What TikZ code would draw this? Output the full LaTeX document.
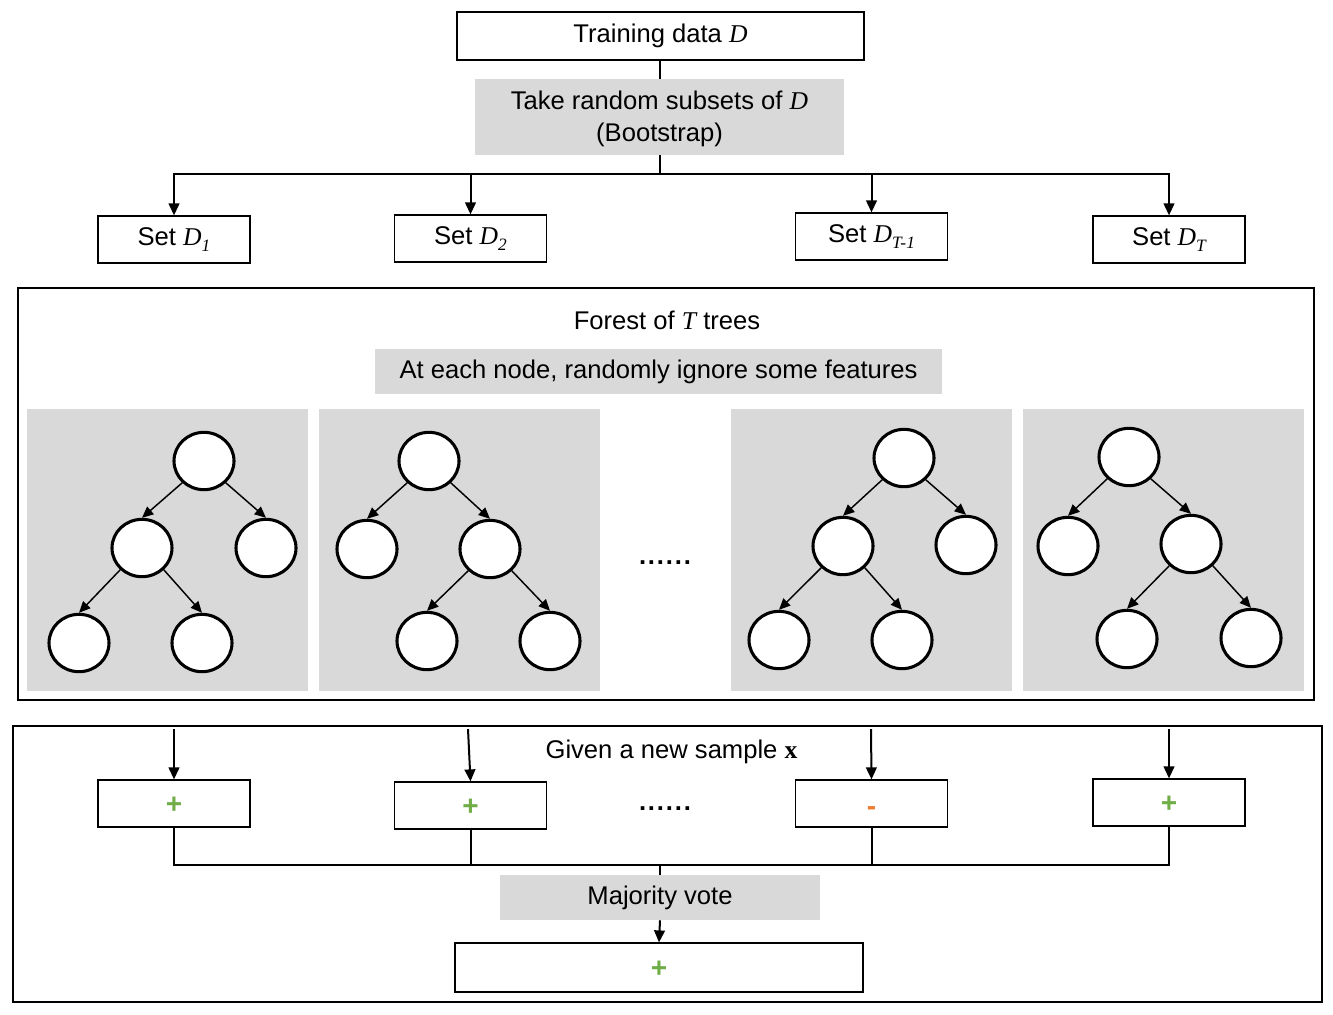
\documentclass[tikz,border=0pt]{standalone}
\usepackage{fontspec}
\setmainfont{Liberation Sans}
\newfontfamily\tnr{Liberation Serif}
\usetikzlibrary{arrows.meta,shapes.geometric}
\definecolor{boxgray}{HTML}{D9D9D9}
\definecolor{plusgreen}{HTML}{70AD47}
\definecolor{minusorange}{HTML}{ED7D31}
\newcommand{\DD}{{\tnr\itshape D}}
\newcommand{\sixdots}{.\kern1.4pt.\kern1.4pt.\kern1.4pt.\kern1.4pt.\kern1.4pt.}
\newcommand{\lowsub}[1]{\raisebox{-4.5pt}{\fontsize{13}{14}\selectfont\tnr\itshape #1}}
\tikzset{
  lbl/.style={font=\fontsize{19.2}{23.5}\selectfont, align=center},
  wbox/.style={draw=black, line width=0.9pt, fill=white, inner sep=0pt, lbl},
  gbox/.style={fill=boxgray, inner sep=0pt, lbl},
  panel/.style={fill=boxgray, inner sep=0pt, minimum width=210.75pt, minimum height=211.5pt},
  frame/.style={draw=black, line width=0.9pt, inner sep=0pt},
  tn/.style={ellipse, draw=black, line width=2.3pt, fill=white, minimum width=45pt, minimum height=43pt, inner sep=0pt},
  tedge/.style={line width=1.1pt, -{Triangle[length=8.5pt,width=7.5pt]}},
  conn/.style={line width=1.5pt},
  arr/.style={line width=1.5pt, -{Triangle[length=9pt,width=8pt]}},
  setbox/.style={wbox, minimum width=114pt, minimum height=35.25pt},
  dots/.style={font=\fontsize{19.2}{20}\selectfont\bfseries},
  plus/.style={font=\fontsize{21}{22}\selectfont\bfseries, text=plusgreen},
  minus/.style={font=\fontsize{21}{22}\selectfont\bfseries, text=minusorange},
}
\begin{document}
\begin{tikzpicture}[x=0.75pt, y=-0.75pt]
\useasboundingbox (0,0) rectangle (1333,1014);
\fill[white] (0,0) rectangle (1333,1014);

% top part
\node[wbox, minimum width=305.25pt, minimum height=36pt] (train) at (660.5,36) {Training data \DD};
\node[gbox, minimum width=276.75pt, minimum height=57pt] (boot) at (659.5,117) {};
\node[lbl] (boottext) at (659.5,119) {Take random subsets of \DD\\(Bootstrap)};
\draw[conn] (boot.north) -- (boot.north |- train.south);

\node[setbox] (s1) at (174,239.5) {Set \DD\lowsub{1}};
\node[setbox] (s2) at (470.5,238.5) {Set \DD\lowsub{2}};
\node[setbox] (s3) at (871.5,236.5) {Set \DD\lowsub{T-1}};
\node[setbox] (s4) at (1169,239.5) {Set \DD\lowsub{T}};
\coordinate (split) at (659.5,174);
\draw[conn] (boot.south) -- (split);
\draw[arr] (split) -| (s1.north);
\draw[arr] (split) -| (s2.north);
\draw[arr] (split) -| (s3.north);
\draw[arr] (split) -| (s4.north);

% forest frame
\node[frame, minimum width=972pt, minimum height=309pt] (forest) at (666,494) {};
\node[lbl] (ftitle) at (667,320) {Forest of {\tnr\itshape T} trees};
\node[gbox, minimum width=425.25pt, minimum height=33.75pt] (feat) at (658.5,371.5) {At each node, randomly ignore some features};

\node[panel] (p1) at (167.5,550) {};
\node[panel] (p2) at (459.5,550) {};
\node[panel] (p3) at (871.5,550) {};
\node[panel] (p4) at (1163.5,550) {};
\node[dots] (fdots) at (665,563) {\sixdots};

% tree 1
\node[tn] (t1a) at (204,461) {};
\node[tn] (t1b) at (142,548) {};
\node[tn] (t1c) at (266,548) {};
\node[tn] (t1d) at (79,643) {};
\node[tn] (t1e) at (202,643) {};
\draw[tedge] (t1a.-135) -- (t1b.north);
\draw[tedge] (t1a.-45) -- (t1c.north);
\draw[tedge] (t1b.-135) -- (t1d.north);
\draw[tedge] (t1b.-45) -- (t1e.north);
% tree 2
\node[tn] (t2a) at (429,461) {};
\node[tn] (t2b) at (367,549) {};
\node[tn] (t2c) at (490,549) {};
\node[tn] (t2d) at (427,641) {};
\node[tn] (t2e) at (550,641) {};
\draw[tedge] (t2a.-135) -- (t2b.north);
\draw[tedge] (t2a.-45) -- (t2c.north);
\draw[tedge] (t2c.-135) -- (t2d.north);
\draw[tedge] (t2c.-45) -- (t2e.north);
% tree 3
\node[tn] (t3a) at (904,458) {};
\node[tn] (t3b) at (843,546) {};
\node[tn] (t3c) at (966,545) {};
\node[tn] (t3d) at (779,640) {};
\node[tn] (t3e) at (902,640) {};
\draw[tedge] (t3a.-135) -- (t3b.north);
\draw[tedge] (t3a.-45) -- (t3c.north);
\draw[tedge] (t3b.-135) -- (t3d.north);
\draw[tedge] (t3b.-45) -- (t3e.north);
% tree 4
\node[tn] (t4a) at (1129,457) {};
\node[tn] (t4b) at (1068,546) {};
\node[tn] (t4c) at (1191,544) {};
\node[tn] (t4d) at (1127,639) {};
\node[tn] (t4e) at (1251,638) {};
\draw[tedge] (t4a.-135) -- (t4b.north);
\draw[tedge] (t4a.-45) -- (t4c.north);
\draw[tedge] (t4c.-135) -- (t4d.north);
\draw[tedge] (t4c.-45) -- (t4e.north);

% bottom frame
\node[frame, minimum width=981.75pt, minimum height=207pt] (vote) at (667.5,864) {};
\node[lbl] (given) at (671.5,752) {Given a new sample {\tnr\bfseries x}};

\node[setbox] (r1) at (174,803.5) {};
\node[setbox] (r2) at (470.5,805.5) {};
\node[setbox] (r3) at (871.5,803.5) {};
\node[setbox] (r4) at (1169,802.5) {};
\node[plus, yshift=-1pt] at (r1) {+};
\node[plus, yshift=-1pt] at (r2) {+};
\node[minus, yshift=-6pt] at (r3) {-};
\node[plus, yshift=-1pt] at (r4) {+};
\node[dots] (rdots) at (665,809) {\sixdots};

\coordinate (i1) at (174,729);
\coordinate (i2) at (468,729);
\coordinate (i3) at (871,729);
\coordinate (i4) at (1169,729);
\draw[arr] (i1) -- (r1.north);
\draw[arr] (i2) -- (r2.north);
\draw[arr] (i3) -- (r3.north);
\draw[arr] (i4) -- (r4.north);

\node[gbox, minimum width=240pt, minimum height=33.75pt] (maj) at (660,897.5) {Majority vote};
\coordinate (join) at (660,865);
\draw[conn] (r1.south) |- (join);
\draw[conn] (r2.south) |- (join);
\draw[conn] (r3.south) |- (join);
\draw[conn] (r4.south) |- (join);
\draw[conn] (join) -- (maj.north);

\node[wbox, minimum width=306pt, minimum height=36.75pt] (final) at (659,967.5) {};
\node[plus, yshift=-1pt] at (final) {+};
\draw[arr] (maj.south) -- (final.north);
\end{tikzpicture}
\end{document}
